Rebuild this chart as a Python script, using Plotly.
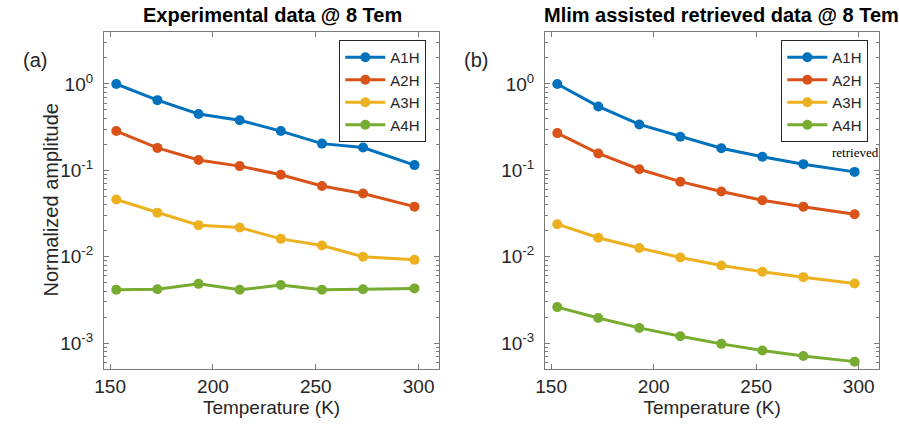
import plotly.graph_objects as go

W, H = 899, 426

temps = [153, 173, 193, 213, 233, 253, 273, 298]
series_names = ["A1H", "A2H", "A3H", "A4H"]
colors = ["#0072BD", "#D95319", "#EDB120", "#77AC30"]

exp_A1H = [1.0, 0.65, 0.45, 0.38, 0.285, 0.204, 0.184, 0.115]
exp_A2H = [0.285, 0.182, 0.132, 0.112, 0.089, 0.066, 0.054, 0.038]
exp_A3H = [0.046, 0.0324, 0.0232, 0.0218, 0.0161, 0.0135, 0.0100, 0.0092]
exp_A4H = [0.00414, 0.0042, 0.00485, 0.00414, 0.0047, 0.00414, 0.0042, 0.0043]

ret_A1H = [1.0, 0.55, 0.34, 0.245, 0.18, 0.144, 0.118, 0.096]
ret_A2H = [0.27, 0.157, 0.103, 0.074, 0.057, 0.045, 0.038, 0.031]
ret_A3H = [0.0238, 0.0166, 0.0126, 0.0098, 0.0079, 0.0067, 0.0058, 0.0049]
ret_A4H = [0.00261, 0.00195, 0.0015, 0.0012, 0.00098, 0.00082, 0.00071, 0.00061]

exp_data = [exp_A1H, exp_A2H, exp_A3H, exp_A4H]
ret_data = [ret_A1H, ret_A2H, ret_A3H, ret_A4H]

xticks = [150, 200, 250, 300]
yticks = [1e-3, 1e-2, 1e-1, 1]
yticktext = ["10<sup>-3</sup>", "10<sup>-2</sup>", "10<sup>-1</sup>", "10<sup>0</sup>"]

fig = go.Figure()
for i, name in enumerate(series_names):
    fig.add_trace(go.Scatter(x=temps, y=exp_data[i], name=name, mode="lines+markers",
                             line=dict(color=colors[i], width=3),
                             marker=dict(color=colors[i], size=10),
                             xaxis="x", yaxis="y", legend="legend"))
for i, name in enumerate(series_names):
    fig.add_trace(go.Scatter(x=temps, y=ret_data[i], name=name, mode="lines+markers",
                             line=dict(color=colors[i], width=3),
                             marker=dict(color=colors[i], size=10),
                             xaxis="x2", yaxis="y2", legend="legend2"))

axcol = "#7a7a7a"
txtcol = "#262626"
font_tick = dict(family="Arial, Liberation Sans, sans-serif", size=19, color=txtcol)

def xax(domain, anchor):
    return dict(domain=domain, anchor=anchor, range=[147, 310], tickvals=xticks,
                ticks="inside", ticklen=5, tickcolor=axcol, showline=True, linecolor=axcol,
                linewidth=1, mirror="ticks", showgrid=False, zeroline=False,
                tickfont=font_tick, title=dict(text="Temperature (K)", font=font_tick, standoff=4))

def yax(domain, anchor):
    return dict(domain=domain, anchor=anchor, type="log", range=[-3.3, 0.602],
                tickvals=yticks, ticktext=yticktext, ticklabelstandoff=6,
                ticks="inside", ticklen=5, tickcolor=axcol, showline=True, linecolor=axcol,
                linewidth=1, mirror="ticks", showgrid=False, zeroline=False,
                tickfont=font_tick,
                minor=dict(ticks="inside", ticklen=3, tickcolor=axcol, dtick="D1", showgrid=False))

ydom = [1 - 369 / H, 1 - 32 / H]
leg_common = dict(font=dict(family="Arial, Liberation Sans, sans-serif", size=15, color=txtcol),
                  bgcolor="white", bordercolor="#262626", borderwidth=1,
                  xanchor="right", yanchor="top", tracegroupgap=0, itemwidth=40)

fig.update_layout(
    width=W, height=H, margin=dict(l=0, r=0, t=0, b=0),
    paper_bgcolor="white", plot_bgcolor="white",
    xaxis=xax([95 / W, 434 / W], "y"),
    yaxis=yax(ydom, "x"),
    xaxis2=xax([541 / W, 879 / W], "y2"),
    yaxis2=yax(ydom, "x2"),
    legend=dict(x=421 / W, y=1 - 40 / H, **leg_common),
    legend2=dict(x=868 / W, y=1 - 40 / H, **leg_common),
    showlegend=True,
)

ann_font = dict(family="Arial, Liberation Sans, sans-serif", size=20, color=txtcol)
title_font = dict(family="Arial, Liberation Sans, sans-serif", size=20, color="black")
annotations = [
    dict(text="<b>Experimental data @ 8 Tem</b>", x=265 / W, y=1 - 15 / H, xref="paper", yref="paper",
         xanchor="center", yanchor="middle", showarrow=False, font=title_font),
    dict(text="<b>Mlim assisted retrieved data @ 8 Tem</b>", x=538 / W, y=1 - 15 / H, xref="paper", yref="paper",
         xanchor="left", yanchor="middle", showarrow=False, font=title_font),
    dict(text="(a)", x=25 / W, y=1 - 60 / H, xref="paper", yref="paper",
         xanchor="center", yanchor="middle", showarrow=False, font=ann_font),
    dict(text="(b)", x=471 / W, y=1 - 60 / H, xref="paper", yref="paper",
         xanchor="center", yanchor="middle", showarrow=False, font=ann_font),
    dict(text="Normalized amplitude", x=41 / W, y=1 - 200 / H, xref="paper", yref="paper",
         xanchor="center", yanchor="middle", textangle=-90, showarrow=False, font=ann_font),
    dict(text="retrieved", x=855 / W, y=1 - 153 / H, xref="paper", yref="paper",
         xanchor="center", yanchor="middle", showarrow=False,
         font=dict(family="Liberation Serif, Times New Roman, serif", size=13, color="black")),
]
fig.update_layout(annotations=annotations)

fig.write_html("out.html")
